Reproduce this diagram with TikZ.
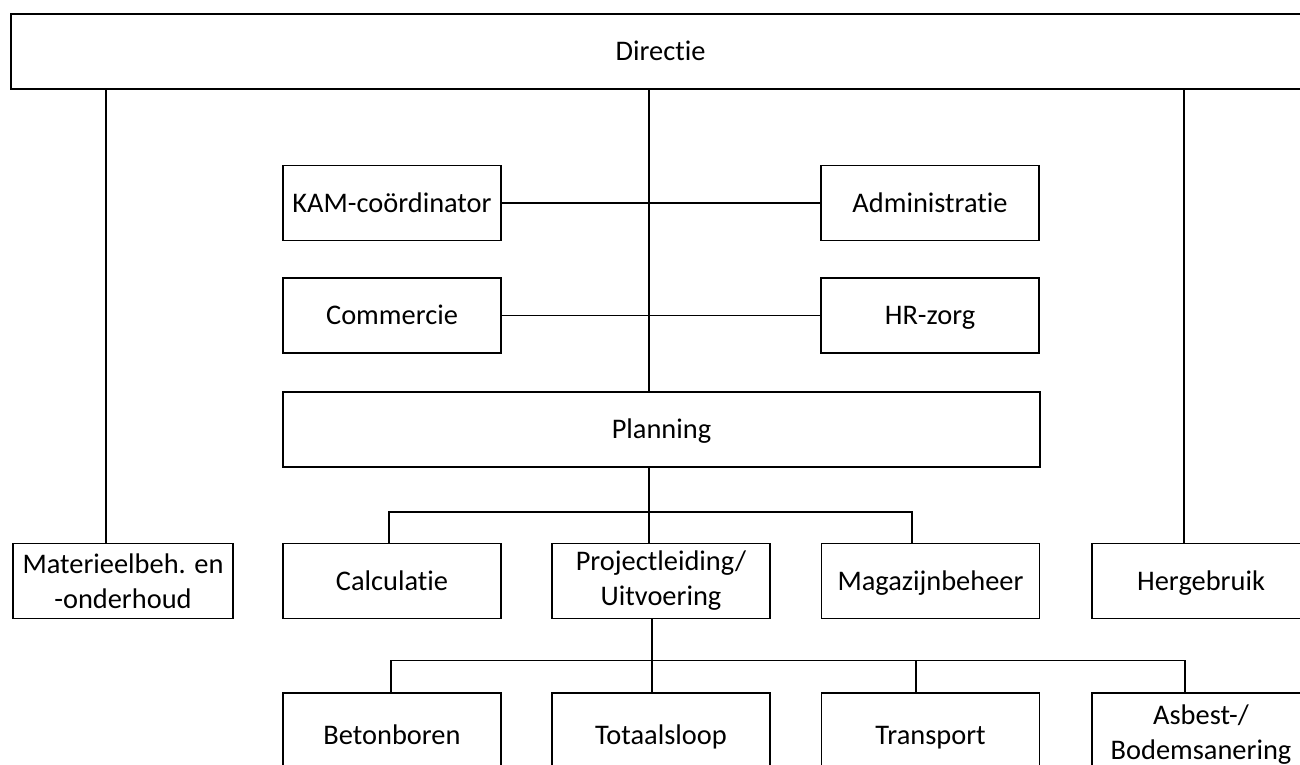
\documentclass[tikz,border=0pt]{standalone}
\usepackage{fontspec}
\setmainfont{Carlito}[Ligatures={NoCommon}]
\usetikzlibrary{calc}

\tikzset{
  box/.style={draw, rectangle, align=center, inner sep=0pt, minimum width=109pt, minimum height=37.5pt, text height=9pt, text depth=0pt},
  twoline/.style={text height=, text depth=}
}

\begin{document}
\begin{tikzpicture}[x=0.5pt, y=-0.5pt, line width=0.7pt, font=\fontsize{14.2}{17.5}\selectfont]

\useasboundingbox (0,0) rectangle (1300,765);

% top
\node[box, minimum width=649.5pt] (directie) at (660.5,51.5) {Directie};

% staf
\node[box] (kam) at (392,203) {KAM-coördinator};
\node[box] (admin) at (930,203) {Administratie};
\node[box] (comm) at (392,315.5) {Commercie};
\node[box] (hr) at (930,315.5) {HR-zorg};
\node[box, minimum width=378.5pt] (planning) at (661.5,429.5) {Planning};

% middle row
\node[box, twoline, minimum width=110pt] (materieel) at (123,581) {Materieelbeh. en\\-onderhoud};
\node[box] (calc) at (392,581) {Calculatie};
\node[box, twoline] (proj) at (661,581) {Projectleiding/\\Uitvoering};
\node[box] (mag) at (930.5,581) {Magazijnbeheer};
\node[box] (herg) at (1201,581) {Hergebruik};

% bottom row
\node[box, minimum height=42pt] (beton) at (392,735) {Betonboren};
\node[box, minimum height=42pt] (totaal) at (661,735) {Totaalsloop};
\node[box, minimum height=42pt] (transport) at (930.5,735) {Transport};
\node[box, twoline, minimum height=42pt] (asbest) at (1201,735) {Asbest-/\\Bodemsanering};

% lines from directie
\draw (materieel.north) ++(-17,0) coordinate (m1) -- (m1 |- directie.south);
\draw (planning.north) ++(-12.5,0) coordinate (p1) -- (p1 |- directie.south);
\draw (herg.north) ++(-17,0) coordinate (h1) -- (h1 |- directie.south);

\draw (kam.east) -- (admin.west);
\draw (comm.east) -- (hr.west);

% planning tree
\coordinate (bus1) at ($(proj.north)+(0,-31)$);
\draw ($(planning.south)+(-12.5,0)$) -- ($(proj.north)+(-12,0)$);
\draw ($(calc.north)+(-3,0)$) |- (bus1) -| ($(mag.north)+(-18.5,0)$);

% uitvoering tree
\coordinate (bus2) at ($(totaal.north)+(0,-32)$);
\draw ($(proj.south)+(-9,0)$) -- ($(totaal.north)+(-9,0)$);
\draw ($(beton.north)+(-1,0)$) |- (bus2) -| ($(asbest.north)+(-16,0)$);
\draw ($(transport.north)+(-14.5,0)$) -- ($(transport.north)+(-14.5,-32)$);

\end{tikzpicture}
\end{document}
